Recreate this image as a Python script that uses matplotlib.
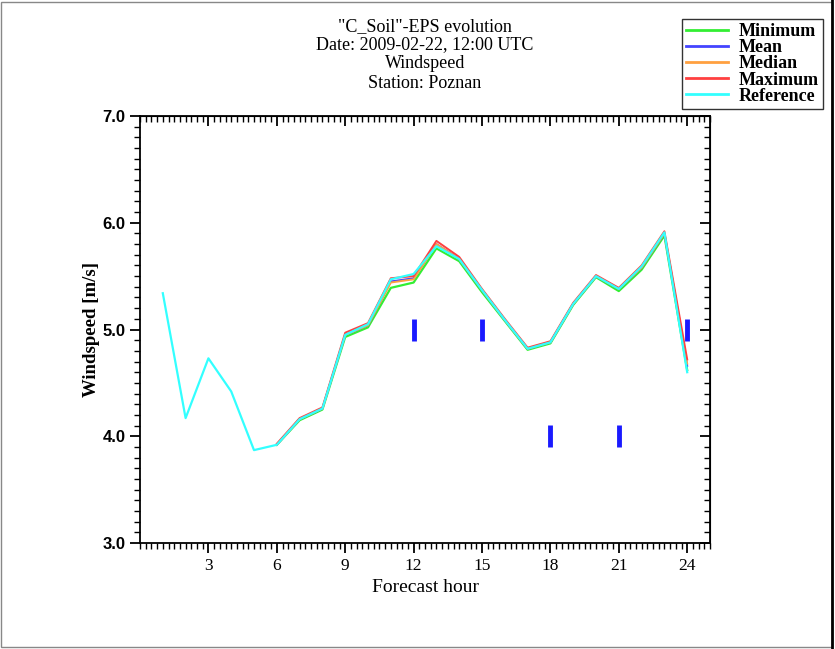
import numpy as np
import matplotlib
matplotlib.use("Agg")
import matplotlib.pyplot as plt
from matplotlib.ticker import MultipleLocator
from matplotlib.patches import Rectangle

# forecast hours
hours_ref = list(range(1, 25))
hours_ens = list(range(6, 25))

reference = [5.34, 4.17, 4.73, 4.42, 3.87, 3.92, 4.16, 4.26, 4.95, 5.05, 5.47, 5.52,
             5.78, 5.66, 5.37, 5.09, 4.82, 4.88, 5.24, 5.50, 5.38, 5.59, 5.91, 4.60]
minimum = [3.92, 4.15, 4.25, 4.93, 5.02, 5.39, 5.44, 5.76, 5.64, 5.35, 5.08, 4.81,
           4.87, 5.23, 5.49, 5.36, 5.56, 5.88, 4.62]
mean = [3.92, 4.16, 4.26, 4.95, 5.04, 5.45, 5.48, 5.80, 5.66, 5.37, 5.09, 4.82,
        4.88, 5.24, 5.50, 5.38, 5.58, 5.90, 4.66]
median = [3.92, 4.16, 4.26, 4.95, 5.04, 5.44, 5.47, 5.80, 5.66, 5.37, 5.09, 4.82,
          4.88, 5.24, 5.50, 5.38, 5.58, 5.90, 4.68]
maximum = [3.93, 4.17, 4.27, 4.97, 5.06, 5.48, 5.50, 5.83, 5.68, 5.38, 5.10, 4.83,
           4.89, 5.25, 5.51, 5.39, 5.60, 5.92, 4.72]

# observation markers
obs_hours = [12, 15, 18, 21, 24]
obs_values = [5.0, 5.0, 4.0, 4.0, 5.0]

serif = "Liberation Serif"

fig = plt.figure(figsize=(8.35, 6.49), dpi=100)
ax = fig.add_axes([140 / 835, 1 - 543 / 649, 570 / 835, 427 / 649])

ax.plot(hours_ens, minimum, color="#33ee33", lw=1.6, label="Minimum")
ax.plot(hours_ens, mean, color="#4444ff", lw=1.4, label="Mean")
ax.plot(hours_ens, median, color="#ffa040", lw=1.4, label="Median")
ax.plot(hours_ens, maximum, color="#ff4040", lw=1.4, label="Maximum")
ax.plot(hours_ref, reference, color="#33ffff", lw=1.6, label="Reference")
ax.plot(obs_hours, obs_values, ls="none", marker="|", markersize=16,
        markeredgewidth=3.5, color="#1a1aff")

ax.set_xlim(0, 25)
ax.set_ylim(3.0, 7.0)
ax.set_xticks([3, 6, 9, 12, 15, 18, 21, 24])
ax.xaxis.set_minor_locator(MultipleLocator(0.25))
ax.set_yticks([3.0, 4.0, 5.0, 6.0, 7.0])
ax.set_yticklabels(["3.0", "4.0", "5.0", "6.0", "7.0"])
ax.yaxis.set_minor_locator(MultipleLocator(0.1))
ax.tick_params(axis="both", which="major", direction="out", length=7, width=1.3,
               labelsize=12)
ax.tick_params(axis="both", which="minor", direction="out", length=4, width=1.0)
# inward ticks on top and right
ax2 = ax.secondary_xaxis("top")
ax2.set_xticks([3, 6, 9, 12, 15, 18, 21, 24])
ax2.xaxis.set_minor_locator(MultipleLocator(0.25))
ax2.tick_params(which="major", direction="in", length=7, width=1.3, labeltop=False)
ax2.tick_params(which="minor", direction="in", length=4, width=1.0)
ay2 = ax.secondary_yaxis("right")
ay2.set_yticks([3.0, 4.0, 5.0, 6.0, 7.0])
ay2.yaxis.set_minor_locator(MultipleLocator(0.1))
ay2.tick_params(which="major", direction="in", length=7, width=1.3, labelright=False)
ay2.tick_params(which="minor", direction="in", length=4, width=1.0)

for t in ax.get_xticklabels():
    t.set_fontfamily(serif)
    t.set_fontsize(12.5)
for t in ax.get_yticklabels():
    t.set_fontweight("bold")
    t.set_fontfamily("Liberation Sans")
for sp in ax.spines.values():
    sp.set_linewidth(1.3)

ax.set_xlabel("Forecast hour", fontfamily=serif, fontsize=14, labelpad=4)
ax.set_ylabel("Windspeed [m/s]", fontfamily=serif, fontsize=13.5, fontweight="bold", labelpad=2)

fig.text(425 / 835, 1 - 27 / 649, '"C_Soil"-EPS evolution', ha="center", va="center",
         fontfamily=serif, fontsize=13)
fig.text(425 / 835, 1 - 45 / 649, "Date: 2009-02-22, 12:00 UTC", ha="center", va="center",
         fontfamily=serif, fontsize=13)
fig.text(425 / 835, 1 - 64 / 649, "Windspeed", ha="center", va="center",
         fontfamily=serif, fontsize=13)
fig.text(425 / 835, 1 - 83 / 649, "Station: Poznan", ha="center", va="center",
         fontfamily=serif, fontsize=13)

leg = fig.legend(loc="upper right", bbox_to_anchor=(0.997, 0.985), frameon=True,
                 fancybox=False, edgecolor="black", handlelength=2.3,
                 labelspacing=-0.05, borderpad=0.25, handletextpad=0.6,
                 prop={"family": serif, "size": 13, "weight": "bold"})
leg.get_frame().set_linewidth(1.0)
for line in leg.get_lines():
    line.set_linewidth(2)

# outer frame of the picture
fig.patches.append(Rectangle((0.001, 0.003), 0.995, 0.994, transform=fig.transFigure,
                             fill=False, edgecolor="#888888", lw=1.0))
fig.lines.append(plt.Line2D([0.997, 0.997], [0, 1], transform=fig.transFigure,
                            color="black", lw=2))

fig.savefig("out.png", dpi=100)
